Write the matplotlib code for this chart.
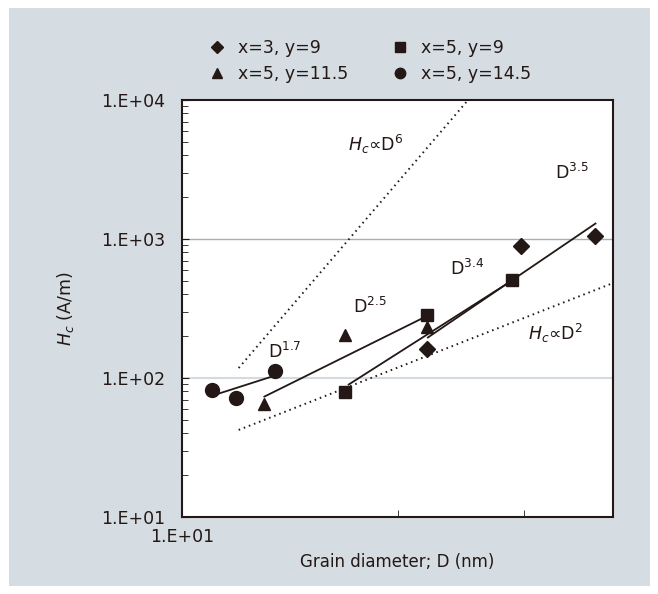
import matplotlib
matplotlib.use("Agg")
import matplotlib.pyplot as plt
from matplotlib.lines import Line2D
from matplotlib.patches import Rectangle

# measured points (grain diameter nm, Hc A/m)
diam_x = [22.0, 29.8, 37.8]
diam_y = [162, 890, 1050]
sq_x = [16.9, 22.0, 28.9]
sq_y = [79, 284, 507]
tri_x = [13.0, 16.9, 22.0]
tri_y = [65, 204, 233]
circ_x = [11.0, 11.9, 13.5]
circ_y = [82, 72, 112]

series_labels = ["x=3, y=9", "x=5, y=9", "x=5, y=11.5", "x=5, y=14.5"]

# fitted power-law segments (endpoints)
fit17_x = [11.1, 13.4]
fit17_y = [75.5, 103]
fit25_x = [13.0, 21.7]
fit25_y = [73, 270]
fit34_x = [17.05, 28.7]
fit34_y = [89, 491]
fit35_x = [22.0, 37.9]
fit35_y = [194, 1303]

# guide lines Hc ~ D^6 and Hc ~ D^2
d6_x = [12.0, 25.3]
d6_y = [118, 10500]
d2_x = [12.0, 40.0]
d2_y = [42.3, 482]

ink = "#231815"
bg = "#d5dde3"

plt.rcParams["font.family"] = "DejaVu Sans"
plt.rcParams["mathtext.fontset"] = "dejavusans"

fig = plt.figure(figsize=(6.58, 5.94), dpi=100)
fig.patch.set_facecolor("white")
fig.patches.append(Rectangle((9 / 658, 8 / 594), 641 / 658, 578 / 594,
                             transform=fig.transFigure, facecolor=bg,
                             edgecolor="none", zorder=-10))

ax = fig.add_axes([182 / 658, 77 / 594, 431 / 658, 417 / 594])
ax.set_xscale("log")
ax.set_yscale("log")
ax.set_xlim(10, 40)
ax.set_ylim(10, 10000)
ax.set_facecolor("white")

ax.axhline(1000, color="#a3b0bb", lw=1.0, zorder=0)
ax.axhline(100, color="#d3dae0", lw=1.5, zorder=0)

line_kw = dict(color=ink, lw=1.3, solid_capstyle="butt")
ax.plot(fit17_x, fit17_y, **line_kw)
ax.plot(fit25_x, fit25_y, **line_kw)
ax.plot(fit34_x, fit34_y, **line_kw)
ax.plot(fit35_x, fit35_y, **line_kw)

dot_kw = dict(color=ink, lw=1.4, linestyle=(0, (0.8, 2.0)))
ax.plot(d6_x, d6_y, **dot_kw)
ax.plot(d2_x, d2_y, **dot_kw)

ax.plot(diam_x, diam_y, "D", color=ink, ms=8, ls="none", clip_on=False)
ax.plot(sq_x, sq_y, "s", color=ink, ms=9, ls="none")
ax.plot(tri_x, tri_y, "^", color=ink, ms=9, ls="none")
ax.plot(circ_x, circ_y, "o", color=ink, ms=10, ls="none")

fs = 12.5
ax.text(0.385, 0.878, r"$H_c$∝D$^6$", transform=ax.transAxes, fontsize=fs, color=ink)
ax.text(0.803, 0.424, r"$H_c$∝D$^2$", transform=ax.transAxes, fontsize=fs, color=ink)
ax.text(0.865, 0.811, r"D$^{3.5}$", transform=ax.transAxes, fontsize=fs, color=ink)
ax.text(0.622, 0.580, r"D$^{3.4}$", transform=ax.transAxes, fontsize=fs, color=ink)
ax.text(0.397, 0.489, r"D$^{2.5}$", transform=ax.transAxes, fontsize=fs, color=ink)
ax.text(0.200, 0.381, r"D$^{1.7}$", transform=ax.transAxes, fontsize=fs, color=ink)

for s in ax.spines.values():
    s.set_color(ink)
    s.set_linewidth(1.5)

ax.set_xticks([10])
ax.set_xticklabels(["1.E+01"])
ax.set_xticks([20, 30], minor=True)
ax.xaxis.set_minor_formatter(plt.NullFormatter())
ax.set_yticks([10, 100, 1000, 10000])
ax.set_yticklabels(["1.E+01", "1.E+02", "1.E+03", "1.E+04"])
ax.tick_params(axis="both", which="both", direction="in", color=ink,
               labelcolor=ink, labelsize=12.5)
ax.tick_params(axis="y", which="major", length=5, pad=12)
ax.tick_params(axis="y", which="minor", length=4)
ax.tick_params(axis="x", which="major", length=0, pad=8)
ax.tick_params(axis="x", which="minor", length=5)

ax.set_xlabel("Grain diameter; D (nm)", fontsize=12, color=ink, labelpad=5)
ax.set_ylabel(r"$H_c$ (A/m)", fontsize=12.5, color=ink, labelpad=18)

handles = [
    Line2D([], [], marker="D", color=ink, ls="none", ms=6),
    Line2D([], [], marker="^", color=ink, ls="none", ms=7.5),
    Line2D([], [], marker="s", color=ink, ls="none", ms=7.5),
    Line2D([], [], marker="o", color=ink, ls="none", ms=7.5),
]
labels = [series_labels[0], series_labels[2], series_labels[1], series_labels[3]]
fig.legend(handles, labels, ncol=2, frameon=False, fontsize=12.5,
           loc="center left", bbox_to_anchor=(208 / 658, 1 - 61 / 594),
           handlelength=1.0, handletextpad=0.7, columnspacing=2.5,
           labelspacing=0.5, labelcolor=ink, borderaxespad=0, borderpad=0)

fig.savefig("out.png", dpi=100, facecolor=fig.get_facecolor())
